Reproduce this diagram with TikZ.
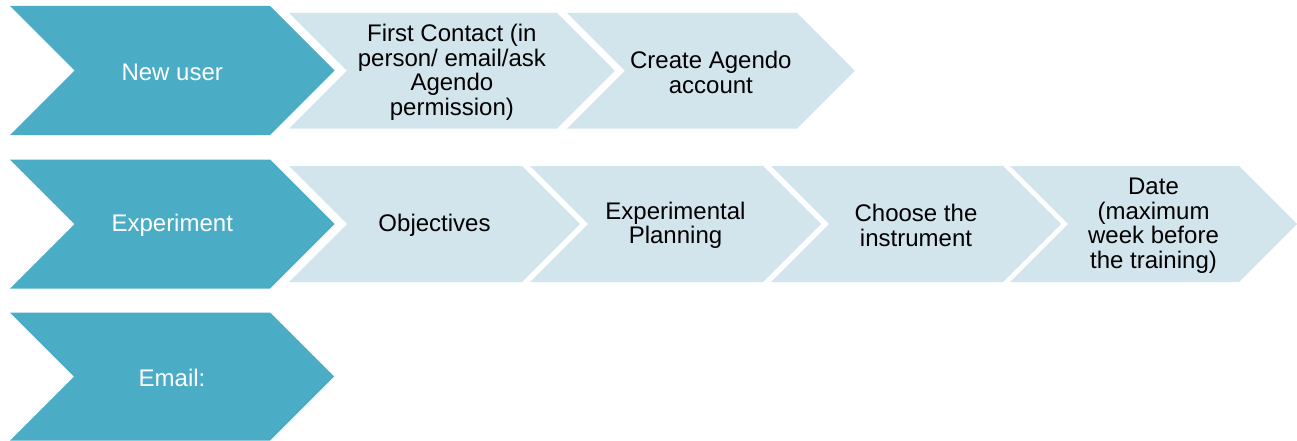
\documentclass[tikz,border=0pt]{standalone}
\usepackage{fontspec}
\setmainfont{Liberation Sans}
\usetikzlibrary{positioning}

\definecolor{chevdark}{RGB}{75,172,198}
\definecolor{chevlight}{RGB}{211,229,236}

% name, left x, top-right x, top y, bottom y, look, text
\newcommand{\chevshape}[7]{%
  \fill[#6] (#2,#4) -- (#3,#4) -- ({#3+(#5-#4)/2},{(#4+#5)/2}) -- (#3,#5) -- (#2,#5) -- ({#2+(#5-#4)/2},{(#4+#5)/2}) -- cycle;
  \node[#6 text] (#1) at ({(#2+#3+(#5-#4)/2)/2},{(#4+#5)/2}) {#7};
}

\begin{document}
\begin{tikzpicture}[x=1pt,y=-1pt,
dark/.style={fill=chevdark},
light/.style={fill=chevlight},
dark text/.style={shape=rectangle,inner sep=0,align=center,yshift=-1.5pt,text=white,font=\fontsize{24}{24.5}\selectfont},
light text/.style={shape=rectangle,inner sep=0,align=center,yshift=-1.5pt,text=black,font=\fontsize{24}{24.5}\selectfont}]
\useasboundingbox (0,0) rectangle (1297,441);

% row 1
\chevshape{newuser}{10}{270}{6}{135}{dark}{New user}
\chevshape{contact}{289}{557}{13}{128.5}{light}{First Contact (in\\person/ email/ask\\Agendo\\permission)}
\chevshape{account}{567}{797}{13}{128.5}{light}{Create Agendo\\account}

% row 2
\chevshape{experiment}{10}{270}{159.5}{288.5}{dark}{Experiment}
\chevshape{objectives}{289}{522}{166}{282}{light}{Objectives}
\chevshape{planning}{530}{763}{166}{282}{light}{Experimental\\Planning}
\chevshape{instrument}{771}{1003}{166}{282}{light}{Choose the\\instrument}
\chevshape{date}{1010}{1239}{166}{282}{light}{Date\\(maximum\\week before\\the training)}

% row 3
\chevshape{email}{10}{270}{312.5}{440.5}{dark}{Email:}

\end{tikzpicture}
\end{document}
